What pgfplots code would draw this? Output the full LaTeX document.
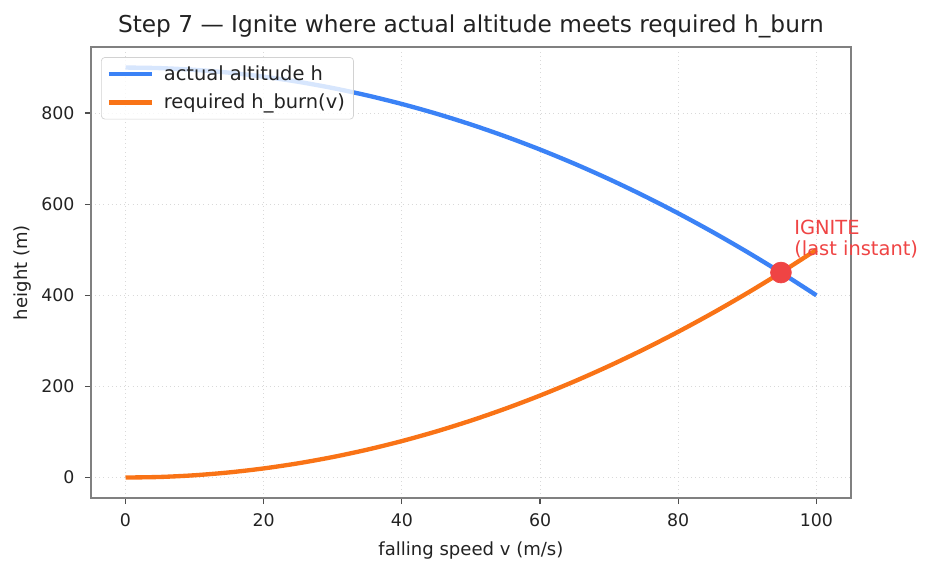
\documentclass[border=0pt]{standalone}
\usepackage{fontspec}
\setmainfont{DejaVu Sans}
\usepackage{pgfplots}
\pgfplotsset{compat=1.18}

\definecolor{altblue}{HTML}{3B82F6}
\definecolor{burnorange}{HTML}{F97316}
\definecolor{ignitered}{HTML}{EF4444}
\definecolor{framegray}{HTML}{808080}
\definecolor{tickdark}{HTML}{222222}

\begin{document}
\begin{tikzpicture}
\begin{axis}[
  at={(0pt,0pt)}, anchor=south west,
  scale only axis,
  width=437.8pt, height=259.8pt,
  xmin=-5, xmax=105, ymin=-45, ymax=945,
  clip=false,
  xtick={0,20,40,60,80,100},
  ytick={0,200,400,600,800},
  axis line style={framegray, line width=0.9pt},
  tick style={tickdark!80, line width=0.7pt},
  tick align=outside,
  major tick length=3.5pt,
  xtick pos=bottom, ytick pos=left,
  /pgf/number format/assume math mode=true,
  font=\fontsize{10}{12}\selectfont,
  ticklabel style={font=\fontsize{10}{12}\selectfont, text=tickdark},
  xticklabel style={anchor=north, inner sep=0pt, yshift=-5.5pt},
  yticklabel style={anchor=east, inner sep=0pt, xshift=-5.8pt},
  grid=major,
  major grid style={gray!30, dotted, line width=0.5pt},
  title={Step 7 — Ignite where actual altitude meets required h\_burn},
  title style={font=\fontsize{13.4}{16}\selectfont, text=tickdark, at={(axis description cs:0.5,1)}, anchor=base, yshift=2.2pt},
  xlabel={falling speed v (m/s)},
  xlabel style={font=\fontsize{10.4}{12.5}\selectfont, text=tickdark, at={(axis description cs:0.5,-0.1155)}, anchor=center},
  ylabel={height (m)},
  ylabel style={font=\fontsize{10.4}{12.5}\selectfont, text=tickdark, at={(axis description cs:-0.0907,0.5)}, anchor=center},
  legend cell align=left,
  legend style={at={(axis description cs:0,1)}, anchor=north west, xshift=5.8pt, yshift=-5.8pt,
    draw=gray!35, rounded corners=2pt, fill=white, fill opacity=0.8, text opacity=1,
    font=\fontsize{11.2}{13}\selectfont, text=tickdark,
    inner xsep=3pt, inner ysep=2.5pt, row sep=2.5pt},
  legend image code/.code={\draw[#1] (0pt,0pt) -- (25pt,0pt); \path (28.5pt,0pt);},
]

% actual altitude h(v)
\addplot[altblue, line width=2.5pt, smooth] coordinates {
  (0,900) (5,898.75) (10,895) (15,888.75) (20,880) (25,868.75) (30,855)
  (35,838.75) (40,820) (45,798.75) (50,775) (55,748.75) (60,720)
  (65,688.75) (70,655) (75,618.75) (80,580) (85,538.75) (90,495)
  (95,448.75) (100,400)
};
\addlegendentry{actual altitude h}

% altitude needed to start the burn at speed v
\addplot[burnorange, line width=2.5pt, smooth] coordinates {
  (0,0) (5,1.25) (10,5) (15,11.25) (20,20) (25,31.25) (30,45)
  (35,61.25) (40,80) (45,101.25) (50,125) (55,151.25) (60,180)
  (65,211.25) (70,245) (75,281.25) (80,320) (85,361.25) (90,405)
  (95,451.25) (100,500)
};
\addlegendentry{required h\_burn(v)}

% ignition point
\addplot[only marks, mark=*, mark size=6pt, mark options={fill=ignitered, draw=ignitered}, forget plot]
  coordinates {(94.87,450)};

\node[anchor=base west, inner sep=0pt, text=ignitered, font=\fontsize{11.2}{13}\selectfont] at (axis cs:96.75,534) {IGNITE};
\node[anchor=base west, inner sep=0pt, text=ignitered, font=\fontsize{11.2}{13}\selectfont] at (axis cs:96.75,488) {(last instant)};
\end{axis}
\useasboundingbox (-52.4pt,-43.2pt) rectangle (484.5pt,286.9pt);
\end{tikzpicture}
\end{document}
